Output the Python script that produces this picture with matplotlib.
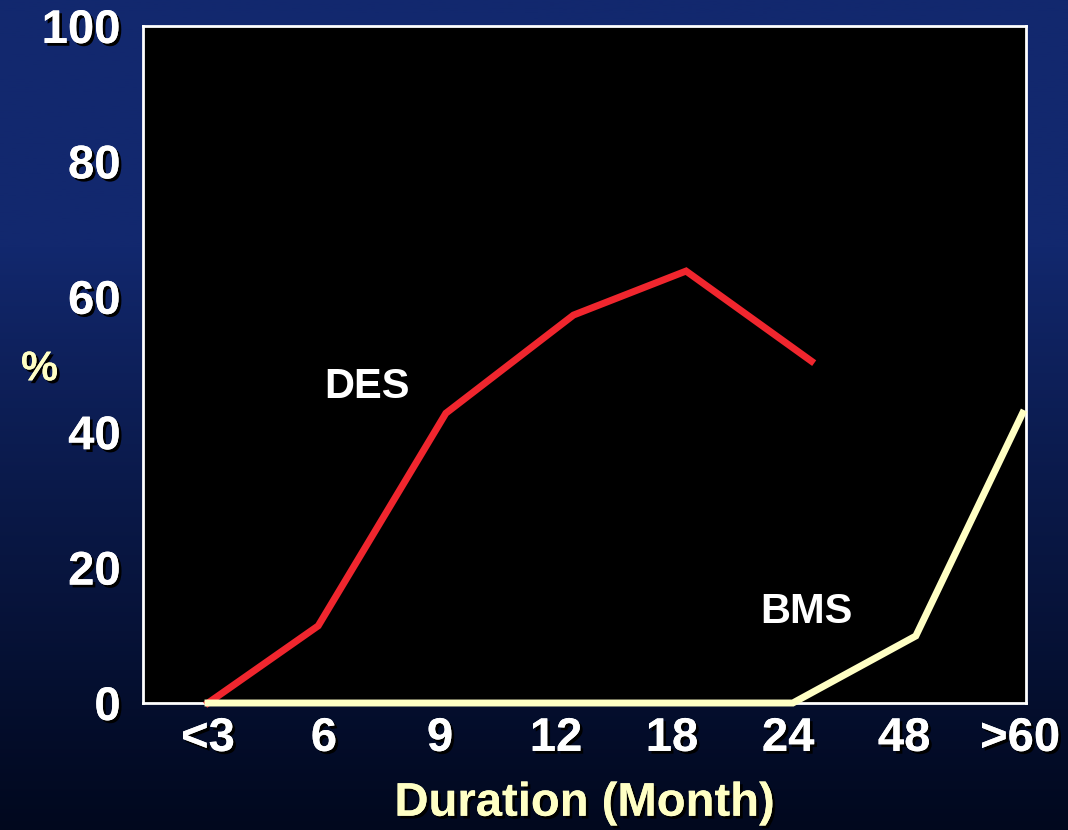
import numpy as np
import matplotlib.pyplot as plt
import matplotlib.patheffects as pe

# categories on the x axis
durees = ['<3', '6', '9', '12', '18', '24', '48', '>60']
# DES curve
des_x = [0, 0.95, 2.05, 3.15, 4.12, 5.2]
des_y = [0, 11.4, 42.8, 57.3, 63.8, 50.5]
# BMS curve
bms_x = [0, 5.04, 6.1, 7.02]
bms_y = [0, 0, 9.9, 42.8]

rouge = '#f0262e'
jaune = '#ffffc4'
ombre = [pe.withSimplePatchShadow(offset=(2, -2), shadow_rgbFace='black', alpha=1.0), pe.Normal()]

plt.rcParams['font.family'] = ['Liberation Sans', 'DejaVu Sans']
plt.rcParams['font.weight'] = 'bold'

fig = plt.figure(figsize=(10.68, 8.30), dpi=100)

# fond en degrade bleu -> noir
fond = fig.add_axes([0, 0, 1, 1], zorder=-10)
t = np.linspace(0, 1, 400)
haut = np.array([18, 40, 110]) / 255
bas = np.array([1, 8, 30]) / 255
poids = np.clip((t - 0.3) / 0.7, 0, 1) ** 0.9
couleurs = haut[None, :] * (1 - poids[:, None]) + bas[None, :] * poids[:, None]
fond.imshow(couleurs[:, None, :], aspect='auto', extent=[0, 1, 0, 1])
fond.axis('off')

ax = fig.add_axes([0.1339, 0.153, 0.9607 - 0.1339, 0.9687 - 0.153])
ax.set_facecolor('black')
for s in ax.spines.values():
    s.set_color('white')
    s.set_linewidth(2)

ax.plot(des_x, des_y, color=rouge, lw=5, clip_on=False, solid_joinstyle='miter', zorder=3)
ax.plot(bms_x, bms_y, color=jaune, lw=5, clip_on=False, solid_joinstyle='miter', zorder=4)

ax.set_xlim(-0.56, 7.05)
ax.set_ylim(0, 100)
ax.set_xticks(range(len(durees)))
ax.set_xticklabels(durees)
ax.set_yticks(range(0, 101, 20))
ax.tick_params(length=0, colors='white', labelsize=34)
ax.tick_params(axis='x', pad=10)
ax.tick_params(axis='y', pad=16)
for lab in ax.get_xticklabels() + ax.get_yticklabels():
    lab.set_fontweight('bold')
    lab.set_path_effects(ombre)

ax.text(1.37, 46.7, 'DES', color='white', fontsize=30, fontweight='bold',
        ha='center', va='center')
ax.text(5.16, 13.4, 'BMS', color='white', fontsize=30, fontweight='bold',
        ha='center', va='center')

ax.set_xlabel('Duration (Month)', color=jaune, fontsize=34, fontweight='bold',
              labelpad=15, path_effects=ombre)
fig.text(0.037, 0.555, '%', color=jaune, fontsize=30, fontweight='bold',
         ha='center', va='center', path_effects=ombre)

fig.savefig('out.png', dpi=100)
